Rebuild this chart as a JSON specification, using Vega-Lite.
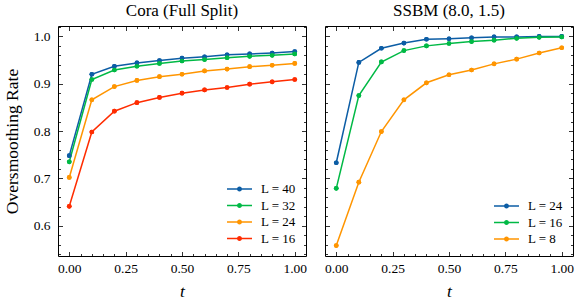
{
  "$schema": "https://vega.github.io/schema/vega-lite/v6.json",
  "padding": {"left": 2, "top": 1, "right": 0, "bottom": 0},
  "datasets": {
    "cora": [
      {"t": 0.0, "v": 0.748, "L": "L = 40"}, {"t": 0.1, "v": 0.920, "L": "L = 40"}, {"t": 0.2, "v": 0.937, "L": "L = 40"}, {"t": 0.3, "v": 0.944, "L": "L = 40"}, {"t": 0.4, "v": 0.949, "L": "L = 40"}, {"t": 0.5, "v": 0.954, "L": "L = 40"}, {"t": 0.6, "v": 0.957, "L": "L = 40"}, {"t": 0.7, "v": 0.961, "L": "L = 40"}, {"t": 0.8, "v": 0.963, "L": "L = 40"}, {"t": 0.9, "v": 0.965, "L": "L = 40"}, {"t": 1.0, "v": 0.968, "L": "L = 40"},
      {"t": 0.0, "v": 0.735, "L": "L = 32"}, {"t": 0.1, "v": 0.909, "L": "L = 32"}, {"t": 0.2, "v": 0.929, "L": "L = 32"}, {"t": 0.3, "v": 0.937, "L": "L = 32"}, {"t": 0.4, "v": 0.943, "L": "L = 32"}, {"t": 0.5, "v": 0.948, "L": "L = 32"}, {"t": 0.6, "v": 0.951, "L": "L = 32"}, {"t": 0.7, "v": 0.955, "L": "L = 32"}, {"t": 0.8, "v": 0.958, "L": "L = 32"}, {"t": 0.9, "v": 0.960, "L": "L = 32"}, {"t": 1.0, "v": 0.963, "L": "L = 32"},
      {"t": 0.0, "v": 0.702, "L": "L = 24"}, {"t": 0.1, "v": 0.866, "L": "L = 24"}, {"t": 0.2, "v": 0.894, "L": "L = 24"}, {"t": 0.3, "v": 0.907, "L": "L = 24"}, {"t": 0.4, "v": 0.915, "L": "L = 24"}, {"t": 0.5, "v": 0.920, "L": "L = 24"}, {"t": 0.6, "v": 0.927, "L": "L = 24"}, {"t": 0.7, "v": 0.931, "L": "L = 24"}, {"t": 0.8, "v": 0.936, "L": "L = 24"}, {"t": 0.9, "v": 0.939, "L": "L = 24"}, {"t": 1.0, "v": 0.943, "L": "L = 24"},
      {"t": 0.0, "v": 0.641, "L": "L = 16"}, {"t": 0.1, "v": 0.798, "L": "L = 16"}, {"t": 0.2, "v": 0.842, "L": "L = 16"}, {"t": 0.3, "v": 0.860, "L": "L = 16"}, {"t": 0.4, "v": 0.871, "L": "L = 16"}, {"t": 0.5, "v": 0.880, "L": "L = 16"}, {"t": 0.6, "v": 0.887, "L": "L = 16"}, {"t": 0.7, "v": 0.892, "L": "L = 16"}, {"t": 0.8, "v": 0.899, "L": "L = 16"}, {"t": 0.9, "v": 0.904, "L": "L = 16"}, {"t": 1.0, "v": 0.909, "L": "L = 16"}
    ],
    "ssbm": [
      {"t": 0.0, "v": 0.733, "L": "L = 24"}, {"t": 0.1, "v": 0.945, "L": "L = 24"}, {"t": 0.2, "v": 0.975, "L": "L = 24"}, {"t": 0.3, "v": 0.986, "L": "L = 24"}, {"t": 0.4, "v": 0.994, "L": "L = 24"}, {"t": 0.5, "v": 0.995, "L": "L = 24"}, {"t": 0.6, "v": 0.997, "L": "L = 24"}, {"t": 0.7, "v": 0.999, "L": "L = 24"}, {"t": 0.8, "v": 0.999, "L": "L = 24"}, {"t": 0.9, "v": 1.0, "L": "L = 24"}, {"t": 1.0, "v": 1.0, "L": "L = 24"},
      {"t": 0.0, "v": 0.679, "L": "L = 16"}, {"t": 0.1, "v": 0.875, "L": "L = 16"}, {"t": 0.2, "v": 0.946, "L": "L = 16"}, {"t": 0.3, "v": 0.970, "L": "L = 16"}, {"t": 0.4, "v": 0.980, "L": "L = 16"}, {"t": 0.5, "v": 0.985, "L": "L = 16"}, {"t": 0.6, "v": 0.989, "L": "L = 16"}, {"t": 0.7, "v": 0.992, "L": "L = 16"}, {"t": 0.8, "v": 0.996, "L": "L = 16"}, {"t": 0.9, "v": 0.998, "L": "L = 16"}, {"t": 1.0, "v": 0.999, "L": "L = 16"},
      {"t": 0.0, "v": 0.558, "L": "L = 8"}, {"t": 0.1, "v": 0.692, "L": "L = 8"}, {"t": 0.2, "v": 0.799, "L": "L = 8"}, {"t": 0.3, "v": 0.866, "L": "L = 8"}, {"t": 0.4, "v": 0.902, "L": "L = 8"}, {"t": 0.5, "v": 0.919, "L": "L = 8"}, {"t": 0.6, "v": 0.929, "L": "L = 8"}, {"t": 0.7, "v": 0.942, "L": "L = 8"}, {"t": 0.8, "v": 0.952, "L": "L = 8"}, {"t": 0.9, "v": 0.965, "L": "L = 8"}, {"t": 1.0, "v": 0.976, "L": "L = 8"}
    ]
  },
  "hconcat": [
    {
      "width": 248, "height": 230,
      "title": "Cora (Full Split)",
      "data": {"name": "cora"},
      "layer": [
        {
          "mark": {"type": "point", "filled": true, "size": 22, "opacity": 1},
          "encoding": {
            "x": {"field": "t", "type": "quantitative", "scale": {"domain": [-0.05, 1.05], "nice": false, "zero": false}, "axis": {"orient": "bottom", "values": [0.05, 0.1, 0.15, 0.2, 0.3, 0.35, 0.4, 0.45, 0.55, 0.6, 0.65, 0.7, 0.8, 0.85, 0.9, 0.95], "labels": false, "tickSize": -2.5, "title": null}},
            "y": {"field": "v", "type": "quantitative", "scale": {"domain": [0.536, 1.022], "nice": false, "zero": false}, "axis": {"orient": "left", "values": [0.54, 0.56, 0.58, 0.62, 0.64, 0.66, 0.68, 0.72, 0.74, 0.76, 0.78, 0.82, 0.84, 0.86, 0.88, 0.92, 0.94, 0.96, 0.98, 1.02], "labels": false, "tickSize": -2.5, "title": null}},
            "color": {"field": "L", "type": "nominal", "scale": {"domain": ["L = 40", "L = 32", "L = 24", "L = 16"], "range": ["#0C5DA5", "#00B945", "#FF9500", "#FF2C00"]}, "legend": {"title": null, "orient": "bottom-right"}}
          }
        },
        {
          "mark": {"type": "line", "strokeWidth": 1.5},
          "encoding": {
            "x": {"field": "t", "type": "quantitative",
                  "axis": {"orient": "bottom", "values": [0, 0.25, 0.5, 0.75, 1], "format": ".2f", "tickSize": -4.5, "labelPadding": 9.5, "title": "t", "titleFontStyle": "italic", "titlePadding": 8}},
            "y": {"field": "v", "type": "quantitative",
                  "axis": {"orient": "left", "values": [0.6, 0.7, 0.8, 0.9, 1.0], "format": ".1f", "tickSize": -4.5, "labelPadding": 12.5, "title": "Oversmoothing Rate", "titlePadding": 12}},
            "color": {"field": "L", "type": "nominal", "legend": {"title": null, "orient": "bottom-right"}}
          }
        },
        {
          "mark": {"type": "point", "filled": true, "size": 22, "opacity": 1},
          "encoding": {
            "x": {"field": "t", "type": "quantitative", "axis": {"orient": "top", "values": [0, 0.25, 0.5, 0.75, 1], "labels": false, "tickSize": -4.5, "title": null}},
            "y": {"field": "v", "type": "quantitative", "axis": {"orient": "right", "values": [0.6, 0.7, 0.8, 0.9, 1.0], "labels": false, "tickSize": -4.5, "title": null}},
            "color": {"field": "L", "type": "nominal", "legend": {"title": null, "orient": "bottom-right"}}
          }
        },
        {
          "mark": {"type": "point", "opacity": 0},
          "encoding": {
            "x": {"field": "t", "type": "quantitative", "axis": {"orient": "top", "values": [0.05, 0.1, 0.15, 0.2, 0.3, 0.35, 0.4, 0.45, 0.55, 0.6, 0.65, 0.7, 0.8, 0.85, 0.9, 0.95], "labels": false, "tickSize": -2.5, "title": null}},
            "y": {"field": "v", "type": "quantitative", "axis": {"orient": "right", "values": [0.54, 0.56, 0.58, 0.62, 0.64, 0.66, 0.68, 0.72, 0.74, 0.76, 0.78, 0.82, 0.84, 0.86, 0.88, 0.92, 0.94, 0.96, 0.98, 1.02], "labels": false, "tickSize": -2.5, "title": null}}
          }
        }
      ],
      "resolve": {"axis": {"x": "independent", "y": "independent"}}
    },
    {
      "width": 248, "height": 230,
      "title": "SSBM (8.0, 1.5)",
      "data": {"name": "ssbm"},
      "layer": [
        {
          "mark": {"type": "point", "filled": true, "size": 22, "opacity": 1},
          "encoding": {
            "x": {"field": "t", "type": "quantitative", "scale": {"domain": [-0.05, 1.05], "nice": false, "zero": false}, "axis": {"orient": "bottom", "values": [0.05, 0.1, 0.15, 0.2, 0.3, 0.35, 0.4, 0.45, 0.55, 0.6, 0.65, 0.7, 0.8, 0.85, 0.9, 0.95], "labels": false, "tickSize": -2.5, "title": null}},
            "y": {"field": "v", "type": "quantitative", "scale": {"domain": [0.536, 1.022], "nice": false, "zero": false}, "axis": {"orient": "left", "values": [0.54, 0.56, 0.58, 0.62, 0.64, 0.66, 0.68, 0.72, 0.74, 0.76, 0.78, 0.82, 0.84, 0.86, 0.88, 0.92, 0.94, 0.96, 0.98, 1.02], "labels": false, "tickSize": -2.5, "title": null}},
            "color": {"field": "L", "type": "nominal", "scale": {"domain": ["L = 24", "L = 16", "L = 8"], "range": ["#0C5DA5", "#00B945", "#FF9500"]}, "legend": {"title": null, "orient": "bottom-right"}}
          }
        },
        {
          "mark": {"type": "line", "strokeWidth": 1.5},
          "encoding": {
            "x": {"field": "t", "type": "quantitative",
                  "axis": {"orient": "bottom", "values": [0, 0.25, 0.5, 0.75, 1], "format": ".2f", "tickSize": -4.5, "labelPadding": 9.5, "title": "t", "titleFontStyle": "italic", "titlePadding": 8}},
            "y": {"field": "v", "type": "quantitative",
                  "axis": {"orient": "left", "values": [0.6, 0.7, 0.8, 0.9, 1.0], "labels": false, "tickSize": -4.5, "title": null}},
            "color": {"field": "L", "type": "nominal", "legend": {"title": null, "orient": "bottom-right"}}
          }
        },
        {
          "mark": {"type": "point", "filled": true, "size": 22, "opacity": 1},
          "encoding": {
            "x": {"field": "t", "type": "quantitative", "axis": {"orient": "top", "values": [0, 0.25, 0.5, 0.75, 1], "labels": false, "tickSize": -4.5, "title": null}},
            "y": {"field": "v", "type": "quantitative", "axis": {"orient": "right", "values": [0.6, 0.7, 0.8, 0.9, 1.0], "labels": false, "tickSize": -4.5, "title": null}},
            "color": {"field": "L", "type": "nominal", "legend": {"title": null, "orient": "bottom-right"}}
          }
        },
        {
          "mark": {"type": "point", "opacity": 0},
          "encoding": {
            "x": {"field": "t", "type": "quantitative", "axis": {"orient": "top", "values": [0.05, 0.1, 0.15, 0.2, 0.3, 0.35, 0.4, 0.45, 0.55, 0.6, 0.65, 0.7, 0.8, 0.85, 0.9, 0.95], "labels": false, "tickSize": -2.5, "title": null}},
            "y": {"field": "v", "type": "quantitative", "axis": {"orient": "right", "values": [0.54, 0.56, 0.58, 0.62, 0.64, 0.66, 0.68, 0.72, 0.74, 0.76, 0.78, 0.82, 0.84, 0.86, 0.88, 0.92, 0.94, 0.96, 0.98, 1.02], "labels": false, "tickSize": -2.5, "title": null}}
          }
        }
      ],
      "resolve": {"axis": {"x": "independent", "y": "independent"}}
    }
  ],
  "resolve": {"scale": {"color": "independent"}, "legend": {"color": "independent"}},
  "spacing": 15,
  "config": {
    "font": "Liberation Serif",
    "view": {"stroke": "#000000", "strokeWidth": 1},
    "axis": {"grid": false, "domain": false, "tickColor": "#000000", "tickWidth": 0.8, "labelColor": "#000000", "titleColor": "#000000", "labelFont": "Liberation Serif", "titleFont": "Liberation Serif", "labelFontSize": 13.5, "titleFontSize": 17.5, "titleFontWeight": "normal"},
    "title": {"font": "Liberation Serif", "fontSize": 17, "fontWeight": "normal", "color": "#000000", "offset": 6},
    "legend": {"labelFont": "Liberation Serif", "labelFontSize": 13, "labelColor": "#000000", "symbolType": "M-1,-0.06H1V0.06H-1Z M0.2,0A0.2,0.2 0 1,1 -0.2,0A0.2,0.2 0 1,1 0.2,0Z", "symbolSize": 625, "symbolStrokeWidth": 0, "clipHeight": 14, "rowPadding": 2.5, "labelOffset": 9, "padding": 4, "offset": 6}
  }
}
